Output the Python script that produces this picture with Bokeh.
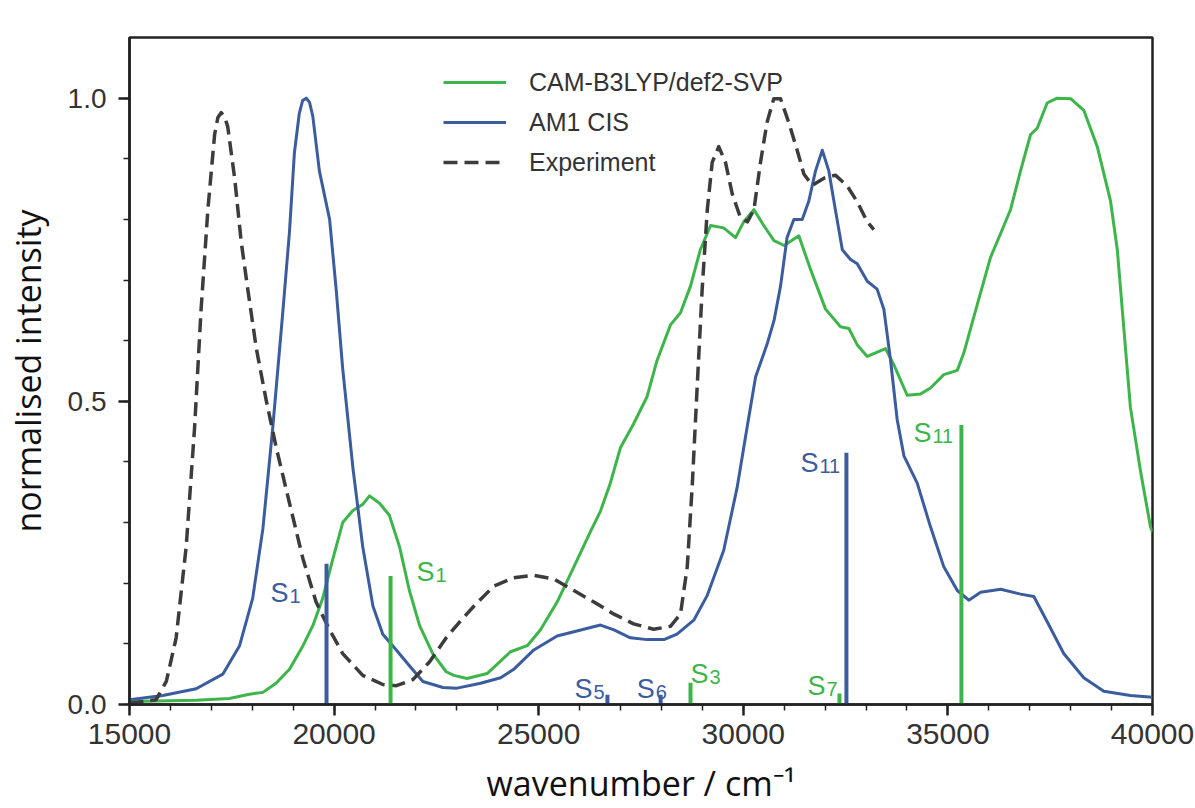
from bokeh.plotting import figure
from bokeh.models import (Range1d, FixedTicker, PrintfTickFormatter,
                          ColumnDataSource, Legend, LegendItem)
from bokeh.core.properties import value
from bokeh.embed import file_html
from bokeh.resources import INLINE

# ---------------- data ----------------
cam_x = [15000, 16630, 17440, 17930, 18260, 18580, 18910, 19240, 19480, 19720, 19970, 20210,
         20460, 20700, 20865, 21110, 21350, 21600, 21840, 22090, 22410, 22740, 22925, 23250,
         23740, 24310, 24720, 25040, 25450, 25860, 26270, 26510, 26750, 27000, 27320, 27650,
         27890, 28220, 28465, 28710, 28950, 29200, 29520, 29810, 30010, 30260, 30500, 30750,
         31000, 31357, 31640, 32010, 32375, 32580, 32785, 33030, 33475, 33680, 34005, 34330,
         34575, 34900, 35230, 35390, 35715, 36040, 36370, 36530, 36775, 37020, 37180, 37425,
         37670, 38000, 38320, 38650, 38975, 39140, 39300, 39460, 39710, 39950, 40000]
cam_y = [0.005, 0.007, 0.010, 0.017, 0.020, 0.035, 0.058, 0.097, 0.130, 0.175, 0.240, 0.300,
         0.320, 0.330, 0.344, 0.332, 0.312, 0.260, 0.188, 0.130, 0.084, 0.054, 0.048, 0.043,
         0.051, 0.087, 0.097, 0.123, 0.169, 0.227, 0.286, 0.319, 0.365, 0.424, 0.463, 0.508,
         0.567, 0.626, 0.646, 0.690, 0.750, 0.790, 0.786, 0.770, 0.796, 0.816, 0.790, 0.765,
         0.757, 0.773, 0.718, 0.652, 0.623, 0.620, 0.593, 0.574, 0.587, 0.560, 0.510, 0.512,
         0.522, 0.544, 0.551, 0.580, 0.659, 0.737, 0.790, 0.816, 0.880, 0.940, 0.950, 0.992,
         1.000, 0.999, 0.980, 0.920, 0.830, 0.750, 0.620, 0.490, 0.384, 0.293, 0.285]

am1_x = [15000, 15815, 16630, 17280, 17690, 18010, 18260, 18500, 18750, 18910, 19030, 19150,
         19230, 19320, 19400, 19480, 19640, 19890, 20050, 20210, 20460, 20700, 20950, 21190,
         21520, 21840, 22170, 22660, 23007, 23580, 24070, 24390, 24880, 25450, 25860, 26510,
         26840, 27240, 27650, 28060, 28380, 28790, 29120, 29520, 29850, 30090, 30300, 30580,
         30750, 30910, 31070, 31235, 31440, 31600, 31765, 31930, 32090, 32250, 32420, 32620,
         32785, 33030, 33270, 33435, 33600, 33760, 33925, 34250, 34575, 34900, 35230, 35510,
         35800, 36290, 36775, 37100, 37430, 37830, 38320, 38810, 39460, 40000]
am1_y = [0.008, 0.015, 0.026, 0.050, 0.097, 0.175, 0.290, 0.456, 0.650, 0.780, 0.910, 0.975,
         0.996, 1.000, 0.993, 0.970, 0.880, 0.800, 0.685, 0.554, 0.390, 0.260, 0.162, 0.116,
         0.090, 0.064, 0.038, 0.028, 0.027, 0.035, 0.044, 0.058, 0.090, 0.113, 0.120, 0.131,
         0.123, 0.110, 0.107, 0.107, 0.116, 0.139, 0.180, 0.254, 0.358, 0.456, 0.540, 0.594,
         0.633, 0.690, 0.770, 0.800, 0.800, 0.830, 0.880, 0.914, 0.880, 0.816, 0.750, 0.734,
         0.727, 0.698, 0.685, 0.652, 0.567, 0.470, 0.410, 0.365, 0.293, 0.227, 0.188, 0.172,
         0.185, 0.190, 0.182, 0.178, 0.136, 0.084, 0.044, 0.022, 0.015, 0.012]

exp_x = [15000, 15650, 15900, 16140, 16385, 16590, 16750, 16915, 17080, 17160, 17240, 17320,
         17400, 17570, 17730, 17890, 18100, 18340, 18585, 18910, 19240, 19560, 19890, 20210,
         20700, 21190, 21520, 21925, 22330, 22740, 23065, 23415, 23900, 24390, 24880, 25370,
         25860, 26350, 26840, 27320, 27810, 28220, 28465, 28630, 28750, 28870, 28995, 29120,
         29240, 29400, 29565, 29730, 29930, 30100, 30260, 30420, 30580, 30745, 30910, 31110,
         31317, 31480, 31683, 31970, 32250, 32540, 32785, 33030, 33190]
exp_y = [0.002, 0.008, 0.038, 0.110, 0.260, 0.456, 0.652, 0.816, 0.940, 0.968, 0.976, 0.970,
         0.953, 0.868, 0.763, 0.685, 0.587, 0.502, 0.424, 0.332, 0.240, 0.169, 0.123, 0.084,
         0.048, 0.033, 0.031, 0.041, 0.070, 0.110, 0.136, 0.162, 0.195, 0.209, 0.213, 0.207,
         0.188, 0.169, 0.149, 0.133, 0.124, 0.129, 0.149, 0.227, 0.358, 0.520, 0.685, 0.816,
         0.894, 0.920, 0.894, 0.842, 0.803, 0.796, 0.816, 0.894, 0.960, 0.999, 0.999, 0.960,
         0.914, 0.875, 0.856, 0.868, 0.873, 0.855, 0.829, 0.796, 0.783]

# stick spectra (excited states)
am1_sticks_x = [19815, 26680, 27980, 32520]
am1_sticks_h = [0.232, 0.016, 0.016, 0.415]
am1_sticks_lab = ["1", "5", "6", "11"]
cam_sticks_x = [21380, 28710, 32350, 35330]
cam_sticks_h = [0.212, 0.036, 0.018, 0.461]
cam_sticks_lab = ["1", "3", "7", "11"]

series_names = ["CAM-B3LYP/def2-SVP", "AM1 CIS", "Experiment"]
x_ticks = [15000, 20000, 25000, 30000, 35000, 40000]
y_ticks = [0.0, 0.5, 1.0]

# ---------------- layout / style (not data) ----------------
GREEN = "#3db54a"
BLUE = "#3b5c9d"
DASH = "#3c3c3c"
AX = "#222222"
# pixel offsets of stick labels relative to stick tops (dx, dy)
am1_lab_off = [(-56, 29), (-33, -6), (-24, -6), (-46, 10)]
cam_lab_off = [(26, -4), (0, -9), (-32, -8), (-48, 8)]

p = figure(width=1195, height=808, x_range=Range1d(15000, 40000), y_range=Range1d(0, 1.1),
           output_backend="svg", toolbar_location=None,
           min_border_left=129, min_border_right=43, min_border_top=37, min_border_bottom=104)
p.background_fill_color = "white"
p.border_fill_color = "white"
p.xgrid.visible = False
p.ygrid.visible = False
p.outline_line_color = AX
p.outline_line_width = 2.5
p.outline_line_alpha = 1.0

r_cam = p.line(cam_x, cam_y, line_color=GREEN, line_width=3, line_join="round")
r_am1 = p.line(am1_x, am1_y, line_color=BLUE, line_width=3, line_join="round")
r_exp = p.line(exp_x, exp_y, line_color=DASH, line_width=3.5, line_dash="14 7",
               line_join="round")

p.segment(x0=am1_sticks_x, y0=[0] * len(am1_sticks_x), x1=am1_sticks_x, y1=am1_sticks_h,
          line_color=BLUE, line_width=4)
p.segment(x0=cam_sticks_x, y0=[0] * len(cam_sticks_x), x1=cam_sticks_x, y1=cam_sticks_h,
          line_color=GREEN, line_width=4)

def stick_labels(xs, hs, labs, offs, color):
    src = ColumnDataSource(dict(
        x=xs, y=hs, s=["S"] * len(xs), sub=labs,
        dx=[o[0] for o in offs], dy=[o[1] for o in offs],
        dx2=[o[0] + 19 for o in offs], dy2=[o[1] + 3 for o in offs]))
    p.text(x="x", y="y", text="s", x_offset="dx", y_offset="dy", source=src,
           text_color=color, text_font=value("Liberation Sans"), text_font_size="27px",
           text_align="left", text_baseline="alphabetic")
    p.text(x="x", y="y", text="sub", x_offset="dx2", y_offset="dy2", source=src,
           text_color=color, text_font=value("Liberation Sans"), text_font_size="20px",
           text_align="left", text_baseline="alphabetic")

stick_labels(am1_sticks_x, am1_sticks_h, am1_sticks_lab, am1_lab_off, BLUE)
stick_labels(cam_sticks_x, cam_sticks_h, cam_sticks_lab, cam_lab_off, GREEN)

# axes
for ax in (p.xaxis[0], p.yaxis[0]):
    ax.axis_line_color = AX
    ax.axis_line_width = 2.5
    ax.major_tick_line_color = AX
    ax.major_tick_line_width = 2.5
    ax.minor_tick_line_color = AX
    ax.minor_tick_line_width = 1.5
    ax.major_tick_in = 0
    ax.major_tick_out = 11
    ax.minor_tick_in = 0
    ax.minor_tick_out = 6
    ax.major_label_text_font = "Liberation Sans"
    ax.major_label_text_color = "#333333"
    ax.axis_label_text_font = "Open Sans"
    ax.axis_label_text_font_style = "normal"
    ax.axis_label_text_color = "#111111"
    ax.axis_label_text_font_size = "34px"

p.xaxis[0].ticker = FixedTicker(ticks=x_ticks, minor_ticks=list(range(15000, 40001, 1000)))
p.xaxis[0].major_label_text_font_size = "30px"
p.xaxis[0].major_label_standoff = 8
p.xaxis[0].axis_label = "wavenumber / cm\u207b\u00b9"
p.xaxis[0].axis_label_standoff = 13

p.yaxis[0].ticker = FixedTicker(ticks=y_ticks, minor_ticks=[i / 10 for i in range(0, 11)])
p.yaxis[0].formatter = PrintfTickFormatter(format="%.1f")
p.yaxis[0].major_label_text_font_size = "28px"
p.yaxis[0].major_label_standoff = 12
p.yaxis[0].axis_label = "normalised intensity"
p.yaxis[0].axis_label_standoff = 14

legend = Legend(items=[LegendItem(label=series_names[0], renderers=[r_cam]),
                       LegendItem(label=series_names[1], renderers=[r_am1]),
                       LegendItem(label=series_names[2], renderers=[r_exp])],
                location=(314, 527))
legend.border_line_color = None
legend.background_fill_alpha = 0
legend.label_text_font = "Liberation Sans"
legend.label_text_font_size = "25px"
legend.label_text_color = "#333333"
legend.glyph_width = 63
legend.glyph_height = 30
legend.label_height = 30
legend.label_standoff = 23
legend.spacing = 10
legend.padding = 10
legend.margin = 0
p.add_layout(legend)

open("out.html", "w").write(file_html(p, INLINE))
